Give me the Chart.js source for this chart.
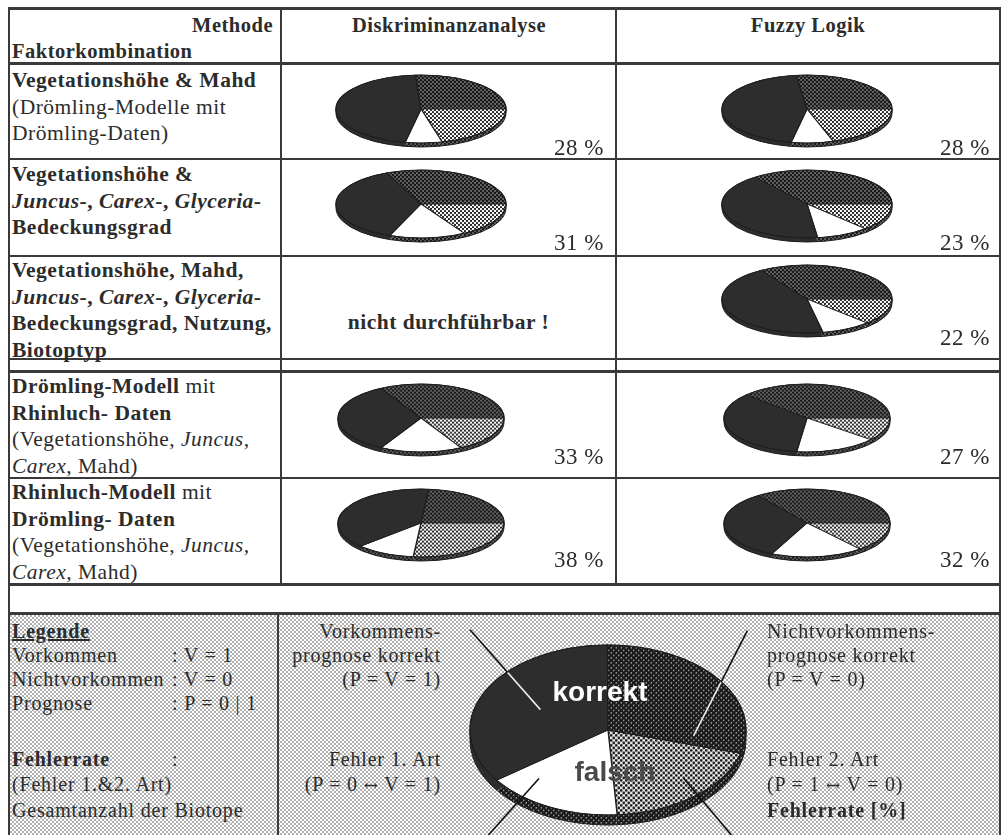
<!DOCTYPE html>
<html>
<head>
<meta charset="utf-8">
<title>Fehlerraten Diskriminanzanalyse / Fuzzy Logik</title>
<script src="https://cdn.jsdelivr.net/npm/chart.js@4.4.1/dist/chart.umd.min.js"></script>
<style>
  html, body { margin: 0; padding: 0; background: #fff; }
  body { width: 1002px; height: 835px; position: relative; overflow: hidden;
         font-family: 'Liberation Serif', 'Times New Roman', serif; color: #2c2c2c; }
  .t { position: absolute; font-size: 21.5px; line-height: 26.5px; letter-spacing: 0.5px; white-space: nowrap; }
  .l { position: absolute; font-size: 20px; line-height: 24px; letter-spacing: 0.8px; white-space: nowrap; }
  .ar { font-family: 'DejaVu Serif', serif; font-size: 17px; }
  .ln { position: absolute; background: #3a3a3a; }
  .leg { position: absolute; left: 9px; top: 614px; width: 991px; height: 221px; background-color: #fff;
         background-image: radial-gradient(circle, #b0b0b0 0.75px, transparent 1.15px),
                           radial-gradient(circle, #b0b0b0 0.75px, transparent 1.15px);
         background-size: 4px 4px; background-position: 0 0, 2px 2px; }
  canvas { position: absolute; }
  .big { position: absolute; z-index: 5; font-family: 'Liberation Sans', Arial, sans-serif; font-weight: bold;
         font-size: 28px; line-height: 30px; white-space: nowrap; }
</style>
</head>
<body>
<div class="leg"></div>
<div id="lines"></div>
<div id="pies"></div>
<div id="texts"></div>
<script>
const methods = ['Diskriminanzanalyse', 'Fuzzy Logik'];
const slices = ['Fehler 2. Art', 'Fehler 1. Art', 'Vorkommensprognose korrekt', 'Nichtvorkommensprognose korrekt'];

const factor_rows = [
  '<b>Vegetationshöhe &amp; Mahd</b><br>(Drömling-Modelle mit<br>Drömling-Daten)',
  '<b>Vegetationshöhe &amp;</b><br><b><i>Juncus</i>-, <i>Carex</i>-, <i>Glyceria</i>-</b><br><b>Bedeckungsgrad</b>',
  '<b>Vegetationshöhe, Mahd,</b><br><b><i>Juncus</i>-, <i>Carex</i>-, <i>Glyceria</i>-</b><br><b>Bedeckungsgrad, Nutzung,</b><br><b>Biotoptyp</b>',
  '<b>Drömling-Modell</b> mit<br><b>Rhinluch- Daten</b><br>(Vegetationshöhe, <i>Juncus,</i><br><i>Carex</i>, Mahd)',
  '<b>Rhinluch-Modell</b> mit<br><b>Drömling- Daten</b><br>(Vegetationshöhe, <i>Juncus,</i><br><i>Carex</i>, Mahd)'
];

// Anteile in % (null = nicht durchführbar)
const diskrim_f2 = [21, 16.5, null, 17, 26.5];
const diskrim_f1 = [7, 14.5, null, 16, 11.5];
const diskrim_v = [46, 37.5, null, 34, 38.5];
const diskrim_nv = [26, 31.5, null, 33, 23.5];

const fuzzy_f2 = [20, 13, 12.5, 11, 14];
const fuzzy_f1 = [8, 10, 9.5, 16, 18];
const fuzzy_v = [45, 41.5, 44, 35, 33];
const fuzzy_nv = [27, 35.5, 34, 38, 35];

const diskrim_rate = [28, 31, null, 33, 38];
const fuzzy_rate = [28, 23, 22, 27, 32];

const legend_share = [19.5, 16, 35, 29.5];

// layout
const row_top = [67, 161, 257, 373, 479];
const pie_y = [109, 204, 299, 418, 523];
const pie_rx = [85, 85, 85, 83, 83];
const pie_x = [421, 807];
const rate_y = [148, 243, 338, 457, 560];
const rate_right = [604, 990];

window.onload = function () {
  draw_lines();
  fill_texts();
  fill_pies();
};

function add(parent, cls, css, html) {
  const d = document.createElement('div');
  d.className = cls;
  d.style.cssText = css;
  d.innerHTML = html || '';
  document.getElementById(parent).appendChild(d);
  return d;
}

function draw_lines() {
  const hor = [[7, 3], [62, 3], [158, 2], [255, 2], [358, 2], [370, 3], [477, 2], [583, 3], [612, 3]];
  hor.forEach(h => add('lines', 'ln', `left:8px;top:${h[0]}px;width:993px;height:${h[1]}px;`));
  add('lines', 'ln', 'left:8px;top:7px;width:2px;height:830px;');
  add('lines', 'ln', 'left:999px;top:7px;width:2px;height:830px;');
  add('lines', 'ln', 'left:280px;top:7px;width:2px;height:578px;');
  add('lines', 'ln', 'left:615px;top:7px;width:2px;height:578px;');
  add('lines', 'ln', 'left:277px;top:612px;width:2px;height:223px;');
}

function fill_texts() {
  add('texts', 't', 'left:100px;top:12px;width:173px;text-align:right;font-size:20.5px;', '<b>Methode</b>');
  add('texts', 't', 'left:12px;top:38px;font-size:20.5px;', '<b>Faktorkombination</b>');
  add('texts', 't', 'left:352px;top:12px;font-size:20.5px;', '<b>' + methods[0] + '</b>');
  add('texts', 't', 'left:616px;top:12px;width:384px;text-align:center;font-size:20.5px;', '<b>' + methods[1] + '</b>');

  factor_rows.forEach((r, i) => add('texts', 't', `left:12px;top:${row_top[i]}px;`, r));

  [diskrim_rate, fuzzy_rate].forEach((rates, m) => {
    rates.forEach((v, i) => {
      if (v === null) {
        add('texts', 't', `left:282px;top:${pie_y[i] + 10}px;width:333px;text-align:center;`, '<b>nicht durchführbar !</b>');
        return;
      }
      add('texts', 't', `left:${rate_right[m] - 150}px;top:${rate_y[i] - 13}px;width:150px;text-align:right;font-size:23px;`, v + ' %');
    });
  });

  const arrow = '<span class="ar">&#8596;</span>';
  const left = ['<b style="text-decoration:underline">Legende</b>', 'Vorkommen', 'Nichtvorkommen', 'Prognose', '', '<b>Fehlerrate</b>', '(Fehler 1.&amp;2. Art)', 'Gesamtanzahl der Biotope'];
  const left_val = ['', ': V = 1', ': V = 0', ': P = 0 | 1', '', ':', '', ''];
  const ly = [619, 643, 667, 691, 0, 747, 772, 798];
  left.forEach((s, i) => {
    if (!s) return;
    add('texts', 'l', `left:12px;top:${ly[i]}px;`, s);
    if (left_val[i]) add('texts', 'l', `left:172px;top:${ly[i]}px;`, left_val[i]);
  });

  const mid = ['Vorkommens-', 'prognose korrekt', '(P = V = 1)', '', '', 'Fehler 1. Art', '(P = 0 ' + arrow + ' V = 1)'];
  const right = ['Nichtvorkommens-', 'prognose korrekt', '(P = V = 0)', '', '', 'Fehler 2. Art', '(P = 1 ' + arrow + ' V = 0)', '<b>Fehlerrate [%]</b>'];
  mid.forEach((s, i) => { if (s) add('texts', 'l', `left:220px;top:${ly[i]}px;width:221px;text-align:right;`, s); });
  right.forEach((s, i) => { if (s) add('texts', 'l', `left:767px;top:${ly[i]}px;`, s); });
}

function make_pattern(size, r, k) {
  const c = document.createElement('canvas');
  c.width = size;
  c.height = size;
  const g = c.getContext('2d');
  const h = size / 2;
  g.fillStyle = '#fff';
  g.fillRect(0, 0, size, size);
  g.fillStyle = '#1a1a1a';
  [[h / 2, h / 2], [h * 1.5, h * 1.5]].forEach(p => {
    [-size, 0, size].forEach(dx => [-size, 0, size].forEach(dy => {
      g.beginPath();
      g.arc(p[0] + dx, p[1] + dy, r, 0, Math.PI * 2);
      g.fill();
    }));
  });
  const pat = g.createPattern(c, 'repeat');
  pat.setTransform(new DOMMatrix().scale(1, 1 / k));
  return pat;
}

function make_rim_plugin(k, rim, rim_fill, pointers) {
  return {
    id: 'rim3d',
    beforeDatasetsDraw(chart) {
      const ctx = chart.ctx;
      const arcs = chart.getDatasetMeta(0).data;
      const cx = arcs[0].x, cy = arcs[0].y;
      ctx.save();
      ctx.translate(cx, cy);
      ctx.scale(1, k);
      ctx.translate(-cx, -cy);
      const off = rim / k;
      arcs.forEach((a, i) => {
        ctx.beginPath();
        ctx.moveTo(a.x, a.y + off);
        ctx.arc(a.x, a.y + off, a.outerRadius, a.startAngle, a.endAngle);
        ctx.closePath();
        ctx.fillStyle = rim_fill[i];
        ctx.fill();
      });
    },
    afterDatasetsDraw(chart) {
      const ctx = chart.ctx;
      ctx.restore();
      const arcs = chart.getDatasetMeta(0).data;
      const cx = arcs[0].x, cy = arcs[0].y, r = arcs[0].outerRadius;
      ctx.save();
      ctx.strokeStyle = '#1e1e1e';
      ctx.lineWidth = 1;
      ctx.beginPath();
      ctx.ellipse(cx, cy, r, r * k, 0, 0, Math.PI * 2);
      ctx.stroke();
      ctx.beginPath();
      ctx.ellipse(cx, cy + rim, r, r * k, 0, 0, Math.PI);
      ctx.moveTo(cx - r, cy);
      ctx.lineTo(cx - r, cy + rim);
      ctx.moveTo(cx + r, cy);
      ctx.lineTo(cx + r, cy + rim);
      ctx.stroke();
      ctx.restore();
      if (!pointers) return;
      const ry = r * k;
      const seg = p => {
        ctx.beginPath();
        ctx.moveTo(cx + p[0] * r, cy + p[1] * ry);
        ctx.lineTo(cx + p[2] * r, cy + p[3] * ry);
        ctx.stroke();
      };
      ctx.save();
      ctx.strokeStyle = '#111';
      ctx.lineWidth = 1.6;
      pointers.forEach(seg);
      // Linien auf den dunklen Sektoren weiss
      ctx.translate(cx, cy);
      ctx.scale(1, k);
      ctx.translate(-cx, -cy);
      ctx.beginPath();
      [2, 3].forEach(i => {
        const a = arcs[i];
        ctx.moveTo(a.x, a.y);
        ctx.arc(a.x, a.y, a.outerRadius - 1, a.startAngle, a.endAngle);
        ctx.closePath();
      });
      ctx.clip();
      ctx.translate(cx, cy);
      ctx.scale(1, 1 / k);
      ctx.translate(-cx, -cy);
      ctx.strokeStyle = '#f0f0f0';
      pointers.forEach(seg);
      ctx.restore();
    }
  };
}

function draw_pie(box, cx, cy, rx, ry, rim, values, rotation, pointers, tile) {
  const k = ry / rx;
  const cv = document.createElement('canvas');
  cv.width = box[2];
  cv.height = box[3];
  cv.style.left = box[0] + 'px';
  cv.style.top = box[1] + 'px';
  cv.style.width = box[2] + 'px';
  cv.style.height = box[3] + 'px';
  document.getElementById('pies').appendChild(cv);

  const wx = 2 * (cx - box[0]), wy = 2 * (cy - box[1]);
  const padding = {
    left: Math.max(wx - box[2], 0), right: Math.max(box[2] - wx, 0),
    top: Math.max(wy - box[3], 0), bottom: Math.max(box[3] - wy, 0)
  };

  const p_dark = make_pattern(tile, tile * 0.4, k);
  const p_light = make_pattern(tile, tile * 0.28, k);

  new Chart(cv, {
    type: 'pie',
    data: {
      labels: slices,
      datasets: [
        {
          data: values,
          backgroundColor: [p_light, '#ffffff', '#2d2d2d', p_dark],
          borderColor: '#1e1e1e',
          borderWidth: 1.3,
          rotation: rotation,
          radius: rx,
          clip: false
        }
      ]
    },
    options: {
      responsive: false,
      animation: false,
      events: [],
      rotation: rotation,
      radius: rx,
      layout: { padding: padding },
      plugins: {
        legend: { display: false },
        tooltip: { enabled: false }
      }
    },
    plugins: [make_rim_plugin(k, rim, [p_dark, p_dark, '#2d2d2d', p_dark], pointers)]
  });
}

function fill_pies() {
  const sets = [
    [diskrim_f2, diskrim_f1, diskrim_v, diskrim_nv],
    [fuzzy_f2, fuzzy_f1, fuzzy_v, fuzzy_nv]
  ];
  sets.forEach((s, m) => {
    s[0].forEach((_, i) => {
      if (s[0][i] === null) return;
      const cx = pie_x[m], cy = pie_y[i], rx = pie_rx[i], ry = 34, rim = 4;
      const box = [cx - rx - 6, cy - ry - 6, 2 * rx + 12, 2 * ry + rim + 12];
      draw_pie(box, cx, cy, rx, ry, rim, [s[0][i], s[1][i], s[2][i], s[3][i]], 90, null, 4);
    });
  });

  const pointers = [
    [-1.0, -1.18, -0.49, -0.24],
    [1.01, -1.17, 0.62, 0.07],
    [-0.5, 0.57, -0.99, 1.46],
    [0.55, 0.57, 1.01, 1.46]
  ];
  draw_pie([445, 615, 330, 220], 608, 730, 138, 85, 10, legend_share, 106, pointers, 5);

  add('texts', 'big', 'left:545px;top:677px;width:110px;text-align:center;color:#fff;', 'korrekt');
  add('texts', 'big', 'left:560px;top:757px;width:110px;text-align:center;color:#4a4a4a;', 'falsch');
}
</script>
</body>
</html>
